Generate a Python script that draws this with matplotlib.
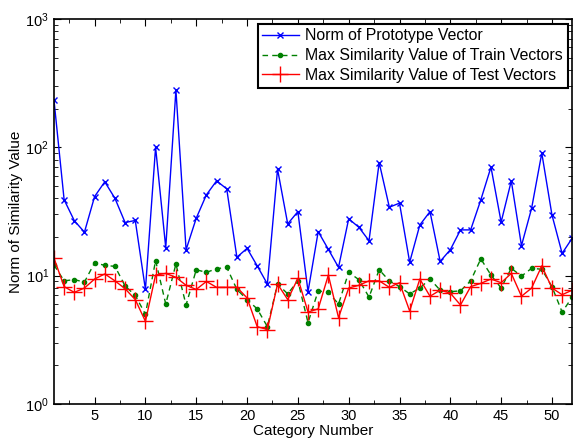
import numpy as np
import matplotlib
matplotlib.use('Agg')
import matplotlib.pyplot as plt
from matplotlib.ticker import MultipleLocator, LogLocator

plt.rcParams['font.family'] = ['Liberation Sans', 'DejaVu Sans']
plt.rcParams['mathtext.default'] = 'regular'

# data
category = np.arange(1, 53)
proto_norm = [234, 39, 26.8, 21.8, 41.3, 53.8, 40, 25.9, 26.9, 7.8,
              100, 16.5, 280, 15.9, 28, 42.6, 54.7, 47.4, 13.9, 16.3,
              11.9, 8.6, 67.5, 25.3, 31.5, 7.5, 22, 16, 11.6, 27.7,
              23.8, 18.7, 76, 34.1, 36.7, 12.7, 24.8, 31.5, 12.9, 15.9,
              22.7, 22.7, 38.9, 70, 26.1, 54.7, 17.1, 33.5, 90, 29.7,
              14.9, 19.6]
train_max = [12.1, 9.1, 9.3, 8.9, 12.6, 12.0, 11.8, 8.3, 7.0, 5.0,
             13.1, 6.0, 12.3, 5.9, 11.1, 10.6, 11.3, 11.6, 7.8, 6.5,
             5.5, 4.0, 8.6, 7.2, 9.1, 4.3, 7.6, 7.4, 6.0, 10.6,
             9.3, 6.8, 11.1, 9.1, 8.2, 7.2, 8.0, 9.4, 7.7, 7.5,
             7.6, 9.1, 13.5, 10.1, 8.0, 11.4, 9.9, 11.4, 11.2, 8.2,
             5.2, 6.8]
test_max = [13.7, 8.2, 7.4, 8.0, 9.4, 10.3, 9.1, 7.9, 6.5, 4.4,
            10.1, 10.4, 9.7, 8.4, 7.8, 9.0, 8.1, 8.1, 8.1, 6.7,
            4.0, 3.8, 8.6, 6.5, 9.5, 5.2, 5.5, 10.1, 4.7, 8.0,
            8.4, 9.1, 9.1, 8.1, 8.8, 5.3, 9.4, 6.9, 7.7, 7.3,
            5.9, 8.2, 8.7, 9.4, 8.8, 10.4, 6.9, 8.0, 11.9, 8.0,
            7.1, 7.7]

fig = plt.figure(figsize=(5.74, 4.40), dpi=100)
ax = fig.add_axes([0.094, 0.082, 0.903, 0.875])

ax.semilogy(category, proto_norm, color='blue', marker='x', markersize=4,
            linewidth=1, label='Norm of Prototype Vector')
ax.semilogy(category, train_max, color='green', linestyle='--', marker='.',
            markersize=6, linewidth=1, dashes=(4, 3),
            label='Max Similarity Value of Train Vectors')
ax.semilogy(category, test_max, color='red', marker='+', markersize=11,
            linewidth=1, label='Max Similarity Value of Test Vectors')

ax.set_xlim(1, 52)
ax.set_ylim(1, 1000)
ax.xaxis.set_major_locator(MultipleLocator(5))
ax.xaxis.set_minor_locator(MultipleLocator(2.5))
ax.yaxis.set_minor_locator(LogLocator(base=10, subs=np.arange(2, 10)))
ax.tick_params(which='both', direction='in', top=True, right=True, labelsize=10.5)
ax.tick_params(which='major', length=5)
ax.tick_params(which='minor', length=3)
for s in ax.spines.values():
    s.set_linewidth(1.2)

ax.set_xlabel('Category Number', fontsize=11, labelpad=1)
ax.set_ylabel('Norm of Similarity Value', fontsize=11, labelpad=2)

leg = ax.legend(loc='upper right', fontsize=11.4, fancybox=False, framealpha=1,
                edgecolor='black', borderaxespad=0.3, handlelength=2.3,
                borderpad=0.3, labelspacing=0.3, handletextpad=0.4)
leg.get_frame().set_linewidth(1.5)

fig.savefig('out.png', dpi=100)
